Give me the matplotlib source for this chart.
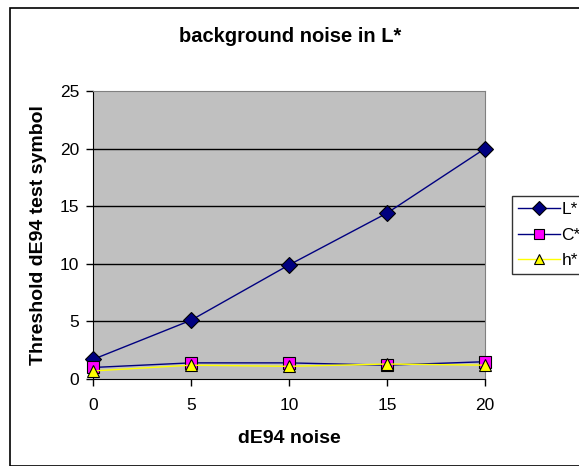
import matplotlib
matplotlib.use('Agg')
import matplotlib.pyplot as plt
from matplotlib.patches import Rectangle

plt.rcParams['font.family'] = ['Liberation Sans', 'DejaVu Sans']

noise = [0, 5, 10, 15, 20]
l_star = [1.7, 5.1, 9.9, 14.4, 20.0]
c_star = [1.0, 1.4, 1.4, 1.2, 1.5]
h_star = [0.7, 1.2, 1.1, 1.3, 1.2]

W, H = 579, 466
fig = plt.figure(figsize=(W / 100, H / 100), dpi=100)

# marco exterior del gráfico
fig.patches.append(Rectangle((10 / W, 0), 1.0, 1 - 8 / H, transform=fig.transFigure,
                             fill=False, edgecolor='black', linewidth=1.2))

ax = fig.add_axes([93 / W, 1 - 379 / H, (485 - 93) / W, (379 - 91) / H])
ax.set_facecolor('#c0c0c0')

ax.plot(noise, l_star, color='#000080', lw=1, marker='D', ms=8,
        mfc='#000080', mec='black', mew=0.8, label='L*', clip_on=False, zorder=3)
ax.plot(noise, c_star, color='#000080', lw=1, marker='s', ms=8,
        mfc='#ff00ff', mec='black', mew=0.8, label='C*', clip_on=False, zorder=3)
ax.plot(noise, h_star, color='#ffff00', lw=1, marker='^', ms=9,
        mfc='#ffff00', mec='black', mew=0.8, label='h*', clip_on=False, zorder=4)

ax.set_xlim(0, 20)
ax.set_ylim(0, 25)
ax.set_xticks(noise)
ax.set_yticks([0, 5, 10, 15, 20, 25])
for y in [5, 10, 15, 20]:
    ax.axhline(y, color='black', lw=1, zorder=1)

ax.tick_params(axis='both', direction='out', length=5, width=1, labelsize=12.5,
               colors='black', pad=5)
ax.tick_params(axis='x', pad=9)
for side in ['top', 'right']:
    ax.spines[side].set_color('#808080')
for side in ['left', 'bottom']:
    ax.spines[side].set_color('black')

ax.set_xlabel('dE94 noise', fontsize=14, fontweight='bold', labelpad=12)
ax.set_ylabel('Threshold dE94 test symbol', fontsize=14, fontweight='bold', labelpad=9)
fig.text(290 / W, 1 - 37 / H, 'background noise in L*', ha='center', va='center',
         fontsize=14.5, fontweight='bold')

leg = fig.legend(loc='upper left', bbox_to_anchor=(512 / W, 1 - 196 / H),
                 frameon=True, fancybox=False, edgecolor='black', fontsize=12.5,
                 handlelength=2.4, handletextpad=0.1, labelspacing=0.6,
                 borderpad=0.35, borderaxespad=0, markerscale=0.85)
leg.get_frame().set_linewidth(1)

fig.savefig('out.png', dpi=100)
